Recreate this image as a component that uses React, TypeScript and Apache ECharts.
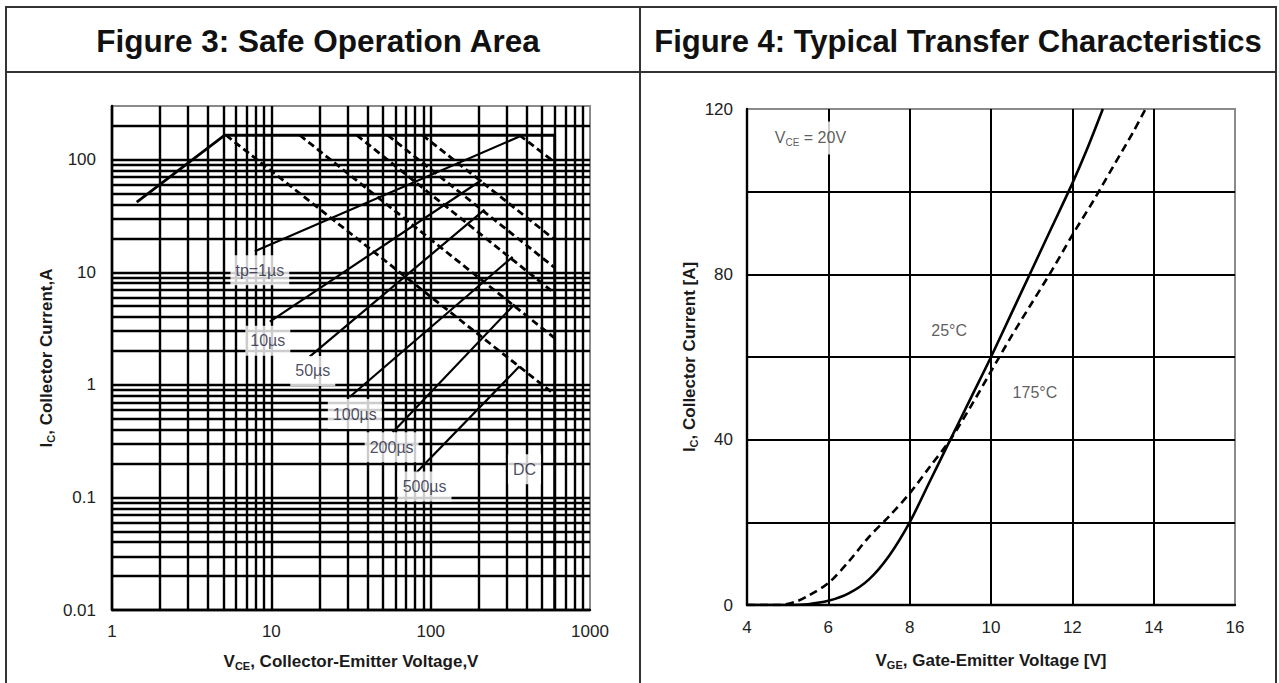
import React, { useEffect, useRef } from 'react';
import * as echarts from 'echarts';

const FONT = '"Liberation Sans", Arial, Helvetica, sans-serif';

// ---------- Figure 3: Safe Operation Area (log-log) ----------
const vceTicks = [1, 10, 100, 1000];
const icTicks = [0.01, 0.1, 1, 10, 100];
const vceDecades = [1, 10, 100];
const icDecades = [0.01, 0.1, 1, 10, 100];
const minorSteps = [2, 3, 4, 5, 6, 7, 8, 9];
const vceMin = 1;
const vceMax = 1000;
const icMin = 0.01;
const icMax = 300;

// outer limit: saturation line, current limit, voltage limit
const soaLimitV = [1.43, 5.1, 600, 600];
const soaLimitI = [42, 165, 165, 0.01];

// pulse-width limits (dashed), order: 1us, 10us, 50us, 100us, 200us, 500us
const pulseStartV = [361, 89, 53.8, 34.4, 15.1, 5.2];
const pulseStartI = [165, 165, 165, 165, 165, 165];
const pulseEndV = [600, 600, 600, 600, 600, 600];
const pulseEndI = [95, 19.5, 11, 6.5, 2.6, 0.82];

// leader lines from labels to curves
const leaderFromV = [7.88, 9.79, 17.4, 31, 57.8, 81.7];
const leaderFromI = [15.4, 3.65, 1.78, 0.78, 0.38, 0.167];
const leaderToV = [370, 209, 218, 327, 336, 361];
const leaderToI = [163, 66, 36, 13.7, 5.2, 1.46];

const soaLabels = ['tp=1µs', '10µs', '50µs', '100µs', '200µs', '500µs', 'DC'];
const soaLabelV = [8.47, 9.5, 18.2, 33.4, 56.9, 91.6, 388];
const soaLabelI = [10.4, 2.47, 1.33, 0.55, 0.279, 0.125, 0.178];

// ---------- Figure 4: Typical Transfer Characteristics ----------
const vgeTickLabels = [4, 6, 8, 10, 12, 14, 16];
const icTickLabels = [0, 40, 80, 120];

const vge25 = [4, 5, 5.5, 6, 6.5, 7, 7.5, 8, 8.5, 9, 9.5, 10, 10.5, 11, 11.5, 12, 12.35, 12.75];
const ic25 = [0, 0, 0.2, 1, 2.8, 6.2, 12, 20, 30, 40, 50, 60, 70.5, 81, 91.5, 102, 110, 120];

const vge175 = [4, 4.8, 5.2, 5.5, 6, 6.5, 7, 7.5, 8, 8.5, 9, 9.5, 10, 10.5, 11, 11.5, 12, 12.5, 13, 13.5, 13.8];
const ic175 = [0, 0, 0.8, 2.2, 5.3, 10.5, 16.5, 21.5, 27, 33.5, 40, 48, 56.5, 65, 73, 81, 89.5, 97.5, 106, 114.5, 120];

const annoText = ['vce', '25°C', '175°C'];
const annoV = [5.56, 8.97, 11.08];
const annoI = [113, 66.5, 51.3];

const zip = (a: number[], b: number[]) => a.map((v, i) => [v, b[i]]);
const clean = (v: number) => +v.toPrecision(6);

const subRich = {
  n: { fontSize: 17, fontWeight: 'bold', color: '#1a1a1a', lineHeight: 20, fontFamily: FONT },
  s: { fontSize: 11, fontWeight: 'bold', color: '#1a1a1a', verticalAlign: 'bottom', fontFamily: FONT },
};

export default function App() {
  const ref = useRef<HTMLDivElement>(null);

  useEffect(() => {
    if (!ref.current) return;
    const chart = echarts.init(ref.current, undefined, { renderer: 'svg' });

    const minorV: number[] = [];
    vceDecades.forEach((d) => minorSteps.forEach((m) => minorV.push(clean(d * m))));
    const minorI: number[] = [];
    icDecades.forEach((d) => minorSteps.forEach((m) => {
      const v = clean(d * m);
      if (v < icMax) minorI.push(v);
    }));

    const gridMarks = [
      ...minorV.map((v) => ({ xAxis: v })),
      ...minorI.map((v) => ({ yAxis: v })),
    ];

    const gridLine = { color: '#000', width: 2.4, opacity: 1 };

    const pulseSeries = pulseStartV.map((sv, i) => ({
      type: 'line',
      xAxisIndex: 0,
      yAxisIndex: 0,
      data: [[sv, pulseStartI[i]], [pulseEndV[i], pulseEndI[i]]],
      symbol: 'none',
      silent: true,
      z: 4,
      lineStyle: { color: '#000', width: 2.8, type: [7, 4] },
    }));

    const leaderSeries = leaderFromV.map((fv, i) => ({
      type: 'line',
      xAxisIndex: 0,
      yAxisIndex: 0,
      data: [[fv, leaderFromI[i]], [leaderToV[i], leaderToI[i]]],
      symbol: 'none',
      silent: true,
      z: 4,
      lineStyle: { color: '#000', width: 2.2 },
    }));

    const option: any = {
      animation: false,
      textStyle: { fontFamily: FONT },
      grid: [
        { left: 112, top: 106, width: 478, height: 504, show: true, borderColor: '#8a8a8a', borderWidth: 2, backgroundColor: 'transparent' },
        { left: 747, top: 109, width: 488, height: 496, show: true, borderColor: '#8a8a8a', borderWidth: 2, backgroundColor: 'transparent' },
      ],
      xAxis: [
        {
          gridIndex: 0,
          type: 'log',
          logBase: 10,
          min: vceMin,
          max: vceMax,
          axisLine: { show: true, onZero: false, lineStyle: { color: '#000', width: 2.4 } },
          axisTick: { show: false },
          axisLabel: {
            fontSize: 17,
            color: '#222',
            margin: 13,
            formatter: (v: number) => {
              const t = vceTicks.find((k) => Math.abs(v / k - 1) < 1e-6);
              return t === undefined ? '' : String(t);
            },
          },
          splitLine: { show: true, showMaxLine: false, lineStyle: gridLine },
          name: '{n|V}{s|CE}{n|, Collector-Emitter Voltage,V}',
          nameLocation: 'middle',
          nameGap: 41,
          nameTextStyle: { rich: subRich },
        },
        {
          gridIndex: 1,
          type: 'value',
          min: 4,
          max: 16,
          interval: 2,
          axisLine: { show: true, onZero: false, lineStyle: { color: '#000', width: 2.4 } },
          axisTick: { show: false },
          axisLabel: {
            fontSize: 17,
            color: '#222',
            margin: 14,
            formatter: (v: number) => (vgeTickLabels.includes(v) ? String(v) : ''),
          },
          splitLine: { show: true, showMaxLine: false, lineStyle: { color: '#000', width: 2 } },
          name: '{n|V}{s|GE}{n|, Gate-Emitter Voltage [V]}',
          nameLocation: 'middle',
          nameGap: 45,
          nameTextStyle: { rich: subRich },
        },
      ],
      yAxis: [
        {
          gridIndex: 0,
          type: 'log',
          logBase: 10,
          min: icMin,
          max: icMax,
          axisLine: { show: true, onZero: false, lineStyle: { color: '#000', width: 2.4 } },
          axisTick: { show: false },
          axisLabel: {
            fontSize: 17,
            color: '#222',
            margin: 16,
            showMaxLabel: false,
            formatter: (v: number) => {
              const t = icTicks.find((k) => Math.abs(v / k - 1) < 1e-6);
              return t === undefined ? '' : String(t);
            },
          },
          splitLine: { show: true, showMaxLine: false, lineStyle: gridLine },
          name: '{n|I}{s|C}{n|, Collector Current,A}',
          nameLocation: 'middle',
          nameRotate: 90,
          nameGap: 56,
          nameTextStyle: { rich: subRich },
        },
        {
          gridIndex: 1,
          type: 'value',
          min: 0,
          max: 120,
          interval: 20,
          axisLine: { show: true, onZero: false, lineStyle: { color: '#000', width: 2.4 } },
          axisTick: { show: false },
          axisLabel: {
            fontSize: 17,
            color: '#222',
            margin: 14,
            formatter: (v: number) => (icTickLabels.includes(v) ? String(v) : ''),
          },
          splitLine: { show: true, showMaxLine: false, lineStyle: { color: '#000', width: 2 } },
          name: '{n|I}{s|C}{n|, Collector Current [A]}',
          nameLocation: 'middle',
          nameRotate: 90,
          nameGap: 48,
          nameTextStyle: { rich: subRich },
        },
      ],
      series: [
        {
          type: 'line',
          xAxisIndex: 0,
          yAxisIndex: 0,
          data: zip(soaLimitV, soaLimitI),
          symbol: 'none',
          silent: true,
          z: 3,
          lineStyle: { color: '#000', width: 2.8 },
          markLine: {
            silent: true,
            symbol: ['none', 'none'],
            label: { show: false },
            emphasis: { disabled: true },
            lineStyle: { color: '#000', width: 2.4, type: 'solid', opacity: 1 },
            data: gridMarks,
          },
        },
        ...pulseSeries,
        ...leaderSeries,
        {
          type: 'scatter',
          xAxisIndex: 0,
          yAxisIndex: 0,
          symbolSize: 0,
          silent: true,
          z: 10,
          data: soaLabels.map((t, i) => ({ value: [soaLabelV[i], soaLabelI[i]], name: t })),
          label: {
            show: true,
            position: 'inside',
            formatter: '{b}',
            backgroundColor: '#fff',
            padding: [7, 5],
            fontSize: 16,
            color: '#1c1c3a',
            fontFamily: FONT,
          },
        },
        {
          type: 'line',
          xAxisIndex: 1,
          yAxisIndex: 1,
          data: zip(vge25, ic25),
          symbol: 'none',
          smooth: 0.3,
          silent: true,
          z: 4,
          lineStyle: { color: '#000', width: 2.6 },
        },
        {
          type: 'line',
          xAxisIndex: 1,
          yAxisIndex: 1,
          data: zip(vge175, ic175),
          symbol: 'none',
          smooth: 0.3,
          silent: true,
          z: 4,
          lineStyle: { color: '#000', width: 2.6, type: [8, 5] },
        },
        {
          type: 'scatter',
          xAxisIndex: 1,
          yAxisIndex: 1,
          symbolSize: 0,
          silent: true,
          z: 10,
          data: annoText.map((t, i) => ({
            value: [annoV[i], annoI[i]],
            name: t,
            label:
              t === 'vce'
                ? {
                    formatter: '{a|V}{b|CE}{a| = 20V}',
                    backgroundColor: '#fff',
                    padding: [7, 2],
                    rich: {
                      a: { fontSize: 16, color: '#333', lineHeight: 19, fontFamily: FONT },
                      b: { fontSize: 10, color: '#333', verticalAlign: 'bottom', fontFamily: FONT },
                    },
                  }
                : { formatter: t },
          })),
          label: {
            show: true,
            position: 'inside',
            fontSize: 16,
            color: '#333',
            fontFamily: FONT,
          },
        },
      ],
      graphic: [
        { type: 'rect', shape: { x: 6, y: 7, width: 1270, height: 700 }, style: { fill: 'none', stroke: '#333', lineWidth: 2 }, silent: true },
        { type: 'line', shape: { x1: 640, y1: 7, x2: 640, y2: 707 }, style: { stroke: '#333', lineWidth: 2 }, silent: true },
        { type: 'line', shape: { x1: 6, y1: 72, x2: 1276, y2: 72 }, style: { stroke: '#333', lineWidth: 2 }, silent: true },
        {
          type: 'text',
          x: 318,
          y: 41,
          style: { text: 'Figure 3: Safe Operation Area', font: `bold 31.5px ${FONT}`, fill: '#111', textAlign: 'center', textVerticalAlign: 'middle' },
          silent: true,
        },
        {
          type: 'text',
          x: 958,
          y: 41,
          style: { text: 'Figure 4: Typical Transfer Characteristics', font: `bold 31px ${FONT}`, fill: '#111', textAlign: 'center', textVerticalAlign: 'middle' },
          silent: true,
        },
      ],
    };

    chart.setOption(option);
    return () => chart.dispose();
  }, []);

  return (
    <div
      ref={ref}
      style={{ position: 'absolute', left: 0, top: 0, width: 1279, height: 683, background: '#fff' }}
    />
  );
}
